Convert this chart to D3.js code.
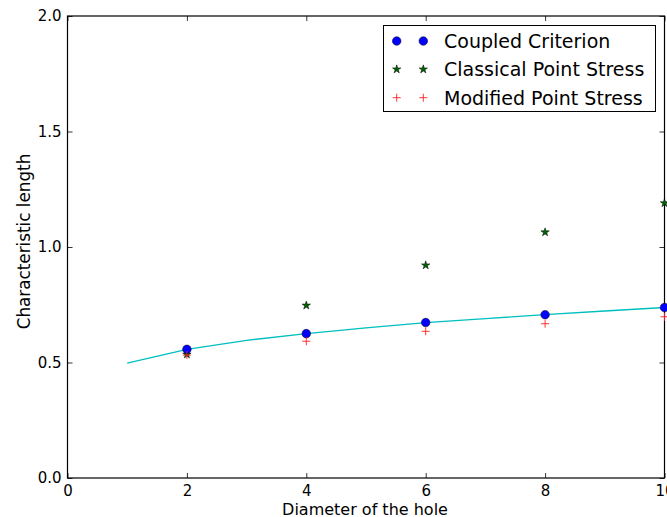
<!DOCTYPE html>
<html><head><meta charset="utf-8">
<script src="https://cdn.jsdelivr.net/npm/d3@7"></script>
<style>body{margin:0;background:#fff;}text{font-family:"DejaVu Sans",sans-serif;fill:#000;}</style>
</head><body>
<svg id="c" width="667" height="517"></svg>
<script>
const diameters = [2, 4, 6, 8, 10];
const coupled = [0.557, 0.625, 0.673, 0.707, 0.738];
const classical = [0.535, 0.747, 0.921, 1.064, 1.19];
const modified = [0.532, 0.592, 0.635, 0.668, 0.698];
const curveX = [1, 2, 3, 4, 5, 6, 7, 8, 9, 10];
const curveY = [0.497, 0.557, 0.596, 0.625, 0.650, 0.673, 0.690, 0.707, 0.723, 0.738];
const xTicks = [0, 2, 4, 6, 8, 10];
const yTicks = [0.0, 0.5, 1.0, 1.5, 2.0];
const legendLabels = ["Coupled Criterion", "Classical Point Stress", "Modified Point Stress"];

const svg = d3.select("#c");
const L = 67.5, R = 664.5, T = 16, B = 478;
const x = d3.scaleLinear().domain([0, 10]).range([L, R]);
const y = d3.scaleLinear().domain([0, 2]).range([B, T]);

// axes
const gx = svg.append("g").attr("transform", `translate(0,${B})`)
  .call(d3.axisBottom(x).tickValues(xTicks).tickFormat(d3.format("d")).tickSizeInner(-5).tickSizeOuter(0).tickPadding(7));
const gxt = svg.append("g").attr("transform", `translate(0,${T})`)
  .call(d3.axisTop(x).tickValues(xTicks).tickFormat("").tickSizeInner(-5).tickSizeOuter(0));
const gy = svg.append("g").attr("transform", `translate(${L},0)`)
  .call(d3.axisLeft(y).tickValues(yTicks).tickFormat(d3.format(".1f")).tickSizeInner(-5).tickSizeOuter(0).tickPadding(6));
const gyr = svg.append("g").attr("transform", `translate(${R},0)`)
  .call(d3.axisRight(y).tickValues(yTicks).tickFormat("").tickSizeInner(-5).tickSizeOuter(0));
[gx, gxt, gy, gyr].forEach(g => {
  g.select(".domain").remove();
  g.selectAll("line").attr("stroke", "#000").attr("stroke-width", 0.8);
  g.selectAll("text").style("font-family", "DejaVu Sans").style("font-size", "15px").attr("fill", "#000");
});
svg.append("rect").attr("x", L).attr("y", T).attr("width", R - L).attr("height", B - T)
  .attr("fill", "none").attr("stroke", "#000").attr("stroke-width", 1.2);

// clip
svg.append("clipPath").attr("id", "clip").append("rect")
  .attr("x", L).attr("y", T).attr("width", R - L).attr("height", B - T);
const plot = svg.append("g").attr("clip-path", "url(#clip)");

// curve
plot.append("path").datum(curveX.map((d, i) => [d, curveY[i]]))
  .attr("d", d3.line().x(d => x(d[0])).y(d => y(d[1])))
  .attr("fill", "none").attr("stroke", "#00bfbf").attr("stroke-width", 1.3);

const star = d3.symbol().type(d3.symbolStar).size(22);
function drawStar(g, cx, cy) {
  g.append("path").attr("d", star()).attr("transform", `translate(${cx},${cy})`)
    .attr("fill", "#006400").attr("stroke", "#000").attr("stroke-width", 0.5);
}
function drawPlus(g, cx, cy) {
  g.append("path").attr("d", `M${cx-4},${cy}H${cx+4}M${cx},${cy-4}V${cy+4}`)
    .attr("stroke", "#ff2020").attr("stroke-width", 0.9).attr("fill", "none");
}
function drawCircle(g, cx, cy) {
  g.append("circle").attr("cx", cx).attr("cy", cy).attr("r", 4.3)
    .attr("fill", "#0000ff").attr("stroke", "#000").attr("stroke-width", 0.5);
}
const marks = svg.append("g");
diameters.forEach((d, i) => drawStar(marks, x(d), y(classical[i])));
diameters.forEach((d, i) => drawCircle(marks, x(d), y(coupled[i])));
diameters.forEach((d, i) => drawPlus(marks, x(d), y(modified[i])));

// labels
svg.append("text").attr("x", 365).attr("y", 514.5).attr("text-anchor", "middle")
  .style("font-size", "16px").text("Diameter of the hole");
svg.append("text").attr("transform", `translate(30,241.5) rotate(-90)`).attr("text-anchor", "middle")
  .style("font-size", "16.8px").text("Characteristic length");

// legend
const lg = svg.append("g");
lg.append("rect").attr("x", 383.5).attr("y", 25.5).attr("width", 272).attr("height", 86)
  .attr("fill", "#fff").attr("stroke", "#000").attr("stroke-width", 1);
const rowsY = [41, 69.3, 97.7];
const drawers = [drawCircle, drawStar, drawPlus];
legendLabels.forEach((lab, i) => {
  drawers[i](lg, 396.7, rowsY[i]);
  drawers[i](lg, 423.3, rowsY[i]);
  lg.append("text").attr("x", 444).attr("y", rowsY[i]).attr("dy", "0.36em")
    .style("font-size", "19px").text(lab);
});
</script>
</body></html>
